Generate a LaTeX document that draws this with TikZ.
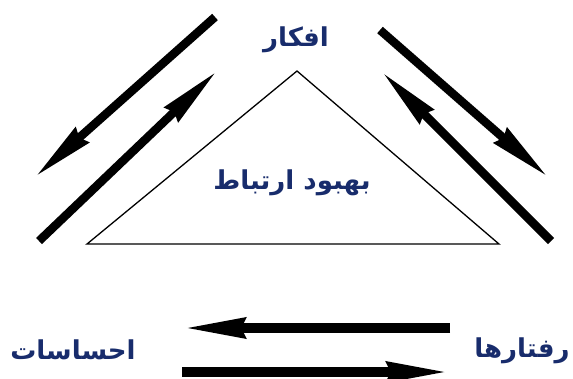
\documentclass[tikz,border=0pt]{standalone}
\usepackage{fontspec}
\usepackage{xcolor}
\usetikzlibrary{arrows.meta, positioning}
\newfontfamily\arabicfont[Script=Arabic]{DejaVu Sans}
\TeXXeTstate=1
\definecolor{labelblue}{RGB}{24,44,108}

\begin{document}
\begin{tikzpicture}[
    x=1pt, y=-1pt,
    label/.style={text=labelblue, font=\arabicfont\bfseries\fontsize{26}{30}\selectfont, inner sep=0pt},
    arr/.style={-{Stealth[length=62pt, width=19pt, inset=3pt]}, line width=8.5pt},
    edge/.style={draw, line width=1.3pt, line join=miter},
]
\useasboundingbox (0,0) rectangle (573,378);

% triangle
\coordinate (tl) at (87,244);
\coordinate (tt) at (297,71);
\coordinate (tr) at (499,244);
\draw[edge] (tl) -- (tt) -- (tr) -- cycle;

% labels
\node[label] (thoughts) at (296,40) {\beginR افکار\endR};
\node[label] (relation) at (292,183) {\beginR بهبود ارتباط\endR};
\node[label] (feelings) at (73,350) {\beginR احساسات\endR};
\node[label] (behaviour) at (522,351) {\beginR رفتارها\endR};

% diagonal arrows
\coordinate (l1a) at (215,17);
\coordinate (l1b) at (35,177);
\coordinate (l2a) at (39,241);
\coordinate (l2b) at (217,71);
\coordinate (r1a) at (380,30);
\coordinate (r1b) at (548,177);
\coordinate (r2a) at (551,241);
\coordinate (r2b) at (382,72);
\draw[arr] (l1a) -- (l1b);
\draw[arr] (l2a) -- (l2b);
\draw[arr] (r1a) -- (r1b);
\draw[arr] (r2a) -- (r2b);

% bottom arrows
\coordinate (b1a) at (450,328);
\coordinate (b1b) at (182,328);
\coordinate (b2a) at (182,372);
\coordinate (b2b) at (450,372);
\draw[arr, line width=10pt] (b1a) -- (b1b);
\draw[arr, line width=10pt] (b2a) -- (b2b);
\end{tikzpicture}
\end{document}
